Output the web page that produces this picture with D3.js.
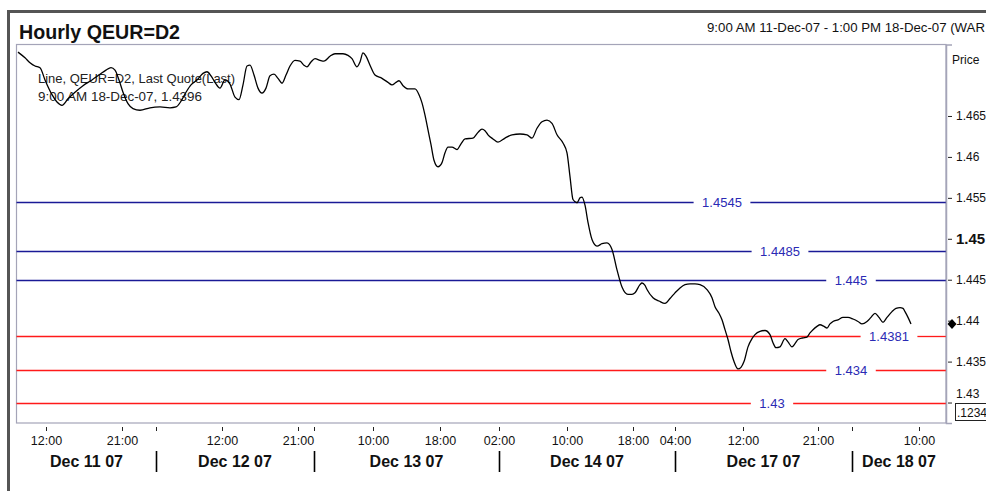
<!DOCTYPE html>
<html><head><meta charset="utf-8">
<script src="https://cdn.jsdelivr.net/npm/d3@7"></script>
<style>
body{margin:0;background:#fff;}
svg{display:block;font-family:"Liberation Sans",Arial,Helvetica,sans-serif;}
</style>
</head><body>
<svg id="chart" width="986" height="491"></svg>
<script>
// ---- data ----
const titleText = "Hourly QEUR=D2";
const rangeText = "9:00 AM 11-Dec-07 - 1:00 PM 18-Dec-07 (WAR";
const legendLines = ["Line, QEUR=D2, Last Quote(Last)", "9:00 AM 18-Dec-07, 1.4396"];

// compressed trading-time index of each quote
const slots = [1,8,13,18,23,28,35,40,45,51,58,66,75,83,89,94,98,102,106,111,
116,123,133,143,153,159,164,169,174,180,186,190,194,198,203,208,213,218,222,226,
230,233,237,241,245,249,253,257,261,265,269,273,278,283,287,290,294,298,303,307,
313,318,326,331,335,340,343,346,349,353,358,365,371,375,379,382,386,391,398,402,
405,408,411,414,417,421,425,428,431,435,440,444,448,456,461,465,468,471,476,481,
488,495,503,510,515,520,525,530,535,540,546,550,553,556,560,563,565,568,571,575,
580,585,590,595,600,605,611,615,618,623,625,628,630,636,642,648,653,658,663,668,
673,678,683,690,695,698,702,705,708,711,714,717,721,724,727,731,735,738,743,748,
753,756,759,763,768,771,775,778,781,786,790,793,796,800,803,807,810,813,816,821,
826,831,836,841,845,850,854,858,862,866,870,875,879,883,886,888,891,894];
const prices = [1.4728,1.4721,1.4715,1.4711,1.4709,1.4694,1.4676,1.4667,1.4663,1.4671,
1.4679,1.4687,1.4694,1.4701,1.4706,1.4709,1.4706,1.4694,1.4679,1.4665,
1.4659,1.4657,1.4660,1.4661,1.4660,1.4661,1.4668,1.4679,1.4688,1.4694,
1.4702,1.4704,1.4699,1.4691,1.4684,1.4694,1.4689,1.4673,1.4670,1.4688,
1.4711,1.4712,1.4700,1.4684,1.4678,1.4684,1.4699,1.4701,1.4696,1.4690,
1.4700,1.4711,1.4718,1.4717,1.4712,1.4710,1.4716,1.4720,1.4718,1.4717,
1.4723,1.4726,1.4726,1.4724,1.4720,1.4710,1.4716,1.4727,1.4723,1.4712,
1.4700,1.4696,1.4691,1.4688,1.4691,1.4693,1.4687,1.4683,1.4683,1.4676,
1.4666,1.4651,1.4633,1.4615,1.4596,1.4588,1.4593,1.4605,1.4612,1.4612,
1.4609,1.4616,1.4622,1.4623,1.4630,1.4634,1.4632,1.4627,1.4622,1.4618,
1.4623,1.4627,1.4628,1.4627,1.4623,1.4635,1.4643,1.4645,1.4641,1.4627,
1.4617,1.4605,1.4576,1.4548,1.4544,1.4550,1.4551,1.4541,1.4520,1.4499,
1.4491,1.4494,1.4495,1.4487,1.4462,1.4441,1.4432,1.4432,1.4434,1.4444,
1.4446,1.4443,1.4438,1.4428,1.4424,1.4421,1.4427,1.4434,1.4440,1.4444,
1.4445,1.4445,1.4444,1.4438,1.4428,1.4417,1.4409,1.4401,1.4389,1.4377,
1.4362,1.4350,1.4341,1.4343,1.4350,1.4368,1.4378,1.4383,1.4387,1.4388,
1.4383,1.4373,1.4367,1.4368,1.4378,1.4374,1.4368,1.4372,1.4377,1.4379,
1.4380,1.4385,1.4389,1.4393,1.4395,1.4393,1.4391,1.4396,1.4399,1.4401,
1.4404,1.4404,1.4402,1.4399,1.4396,1.4399,1.4404,1.4409,1.4404,1.4398,
1.4404,1.4411,1.4415,1.4416,1.4415,1.4411,1.4404,1.4396];

const hourTickSlots  = [29,105,205,281,356,423,482,550,616,658,726,801,902];
const hourTickLabels = ["12:00","21:00","12:00","21:00","10:00","18:00","02:00","10:00","18:00","04:00","12:00","21:00","10:00"];
const daySeparatorSlots = [139,297,482,658,835];
const dayLabels = ["Dec 11 07","Dec 12 07","Dec 13 07","Dec 14 07","Dec 17 07","Dec 18 07"];

const priceTicks = [1.43,1.435,1.44,1.445,1.45,1.455,1.46,1.465];
const majorPriceTick = 1.45;
const raisedPriceTick = 1.43;

const levelValues = [1.4545,1.4485,1.445,1.4381,1.434,1.43];
const levelGroups = ["upper","upper","upper","lower","lower","lower"];
const levelLabelSlots = [705,763,834,872,834,755];
const boxText = ".1234";

// ---- layout ----
const svg = d3.select("#chart");
const plot = {left:16.5, top:44.5, right:946, bottom:423};
const x = d3.scaleLinear().domain([0, 929]).range([17, 946]);
const y = d3.scaleLinear().domain([1.42750, 1.47373]).range([plot.bottom, plot.top]);
const levelColor = {upper:"#1a1a96", lower:"#ff1a1a"};

// outer frame
svg.append("rect").attr("x",7).attr("y",10).attr("width",979).attr("height",3).attr("fill","#555");
svg.append("rect").attr("x",7).attr("y",10).attr("width",3).attr("height",481).attr("fill","#555");

// title and range
svg.append("text").attr("x",19).attr("y",38.5).attr("font-size",20).attr("font-weight","bold")
  .attr("fill","#111").attr("textLength",161).attr("lengthAdjust","spacingAndGlyphs").text(titleText);
svg.append("text").attr("x",707).attr("y",32).attr("font-size",12).attr("fill","#111")
  .attr("textLength",278).attr("lengthAdjust","spacingAndGlyphs").text(rangeText);
svg.append("text").attr("x",952).attr("y",64).attr("font-size",12).attr("fill","#111").text("Price");

// plot border
svg.append("rect").attr("x",plot.left).attr("y",plot.top)
  .attr("width",plot.right-plot.left).attr("height",plot.bottom-plot.top)
  .attr("fill","none").attr("stroke","#a4a4b8").attr("stroke-width",1.2);

// legend text
const legendWidths = [197,164];
legendLines.forEach((t,i)=>{
  svg.append("text").attr("x",38).attr("y",83+i*18).attr("font-size",13).attr("fill","#222")
    .attr("textLength",legendWidths[i]).attr("lengthAdjust","spacingAndGlyphs").text(t);
});

// level lines with labels
const levG = svg.append("g");
levelValues.forEach((v,i)=>{
  const yy = Math.round(y(v))+0.5;
  const cx = x(levelLabelSlots[i]);
  const col = levelColor[levelGroups[i]];
  const t = levG.append("text").attr("x",cx).attr("y",yy).attr("dy","0.35em")
    .attr("text-anchor","middle").attr("font-size",13).attr("fill","#2a2ab4").text(d3.format(".4~f")(v));
  const w = t.node().getComputedTextLength();
  const pad = 8.5;
  levG.append("line").attr("x1",plot.left).attr("x2",cx-w/2-pad).attr("y1",yy).attr("y2",yy)
    .attr("stroke",col).attr("stroke-width",1.3);
  levG.append("line").attr("x1",cx+w/2+pad).attr("x2",plot.right).attr("y1",yy).attr("y2",yy)
    .attr("stroke",col).attr("stroke-width",1.3);
});

// price line
svg.append("clipPath").attr("id","clip").append("rect")
  .attr("x",plot.left).attr("y",plot.top).attr("width",plot.right-plot.left).attr("height",plot.bottom-plot.top);
const series = slots.map((s,i)=>({s, p:prices[i]}));
const line = d3.line().x(d=>x(d.s)).y(d=>y(d.p)).curve(d3.curveMonotoneX);
svg.append("path").datum(series).attr("clip-path","url(#clip)")
  .attr("d",line).attr("fill","none").attr("stroke","#000").attr("stroke-width",1.3);

// right axis
const ax = svg.append("g").attr("transform",`translate(${plot.right},0)`)
  .call(d3.axisRight(y).tickValues(priceTicks).tickSize(6).tickPadding(4)
    .tickFormat(d=>d3.format(".4~f")(d)));
ax.select(".domain").attr("stroke","#a4a4b8").attr("stroke-width",1.5);
ax.selectAll(".tick line").attr("stroke","#222").attr("x1",2);
ax.selectAll(".tick text").attr("fill","#111").attr("font-size",12)
  .attr("font-family","Liberation Sans, Arial, sans-serif");
ax.selectAll(".tick text").filter(d=>d===majorPriceTick).attr("font-size",15).attr("font-weight","bold");
ax.selectAll(".tick text").filter(d=>d===raisedPriceTick).attr("dy","-0.42em");

// last value marker
const last = series[series.length-1];
const lx = plot.right+6, ly = y(last.p);
svg.append("path").attr("d",`M${lx},${ly-5}L${lx+4.5},${ly}L${lx},${ly+5}L${lx-4.5},${ly}Z`).attr("fill","#000");

// small box bottom-right
svg.append("rect").attr("x",955.5).attr("y",403.5).attr("width",40).attr("height",17)
  .attr("fill","#fff").attr("stroke","#222");
svg.append("text").attr("x",957).attr("y",417).attr("font-size",12).attr("fill","#111").text(boxText);

// bottom axis: hour ticks + separator ticks
const allTicks = Array.from(new Set(hourTickSlots.concat(daySeparatorSlots))).sort((a,b)=>a-b);
const bx = svg.append("g").attr("transform",`translate(0,427)`)
  .call(d3.axisBottom(x).tickValues(allTicks).tickSize(4)
    .tickFormat(d=>{const k=hourTickSlots.indexOf(d); return k>=0?hourTickLabels[k]:"";}));
bx.select(".domain").remove();
bx.selectAll(".tick line").attr("stroke","#222");
bx.selectAll(".tick text").attr("y",18).attr("dy",0).attr("font-size",12.5).attr("fill","#111")
  .attr("font-family","Liberation Sans, Arial, sans-serif");

// day separators
svg.append("g").selectAll("line").data(daySeparatorSlots).join("line")
  .attr("x1",d=>Math.round(x(d))+0.5).attr("x2",d=>Math.round(x(d))+0.5)
  .attr("y1",451).attr("y2",472).attr("stroke","#000").attr("stroke-width",1.6);

// day labels
const bounds = [0].concat(daySeparatorSlots, [929]);
svg.append("g").selectAll("text").data(dayLabels).join("text")
  .attr("x",(d,i)=>(x(bounds[i])+x(bounds[i+1]))/2).attr("y",467)
  .attr("text-anchor","middle").attr("font-size",16).attr("font-weight","bold").attr("fill","#111")
  .text(d=>d);
</script>
</body></html>
